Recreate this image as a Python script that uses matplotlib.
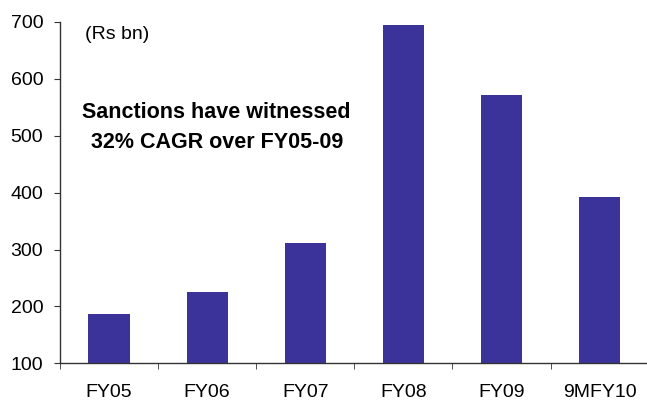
import matplotlib.pyplot as plt
import numpy as np

plt.rcParams['font.family'] = ['Liberation Sans', 'DejaVu Sans']

categorias = ["FY05", "FY06", "FY07", "FY08", "FY09", "9MFY10"]
sanciones = [186, 225, 311, 695, 571, 392]

fig = plt.figure(figsize=(6.47, 4.05), dpi=100)
ax = fig.add_axes([0.0927, 0.103, 0.91, 0.8427])

x = np.arange(len(categorias))
ax.bar(x, sanciones, width=0.42, color="#3B3399", bottom=0)

ax.set_xlim(-0.5, len(categorias) - 0.5)
ax.set_ylim(100, 700)
ax.set_yticks(range(100, 701, 100))
ax.set_xticks(x)
ax.set_xticklabels(categorias)
ax.set_xticks(np.arange(-0.5, len(categorias), 1), minor=True)

ax.spines["top"].set_visible(False)
ax.spines["right"].set_visible(False)
for s in ("left", "bottom"):
    ax.spines[s].set_color("#333333")
    ax.spines[s].set_linewidth(1.0)

ax.tick_params(axis="x", which="major", length=0, pad=15, labelsize=14)
ax.tick_params(axis="x", which="minor", length=4, direction="out", color="#333333")
ax.tick_params(axis="y", length=4, direction="out", pad=8, labelsize=14, color="#333333")

# texto de unidades y nota
fig.text(0.131, 0.914, "(Rs bn)", fontsize=14, va="center", ha="left")
fig.text(0.335, 0.721, "Sanctions have witnessed", fontsize=15.5,
         fontweight="bold", ha="center", va="center")
fig.text(0.335, 0.649, "32% CAGR over FY05-09", fontsize=15.5,
         fontweight="bold", ha="center", va="center")

fig.savefig("out.png", dpi=100)
